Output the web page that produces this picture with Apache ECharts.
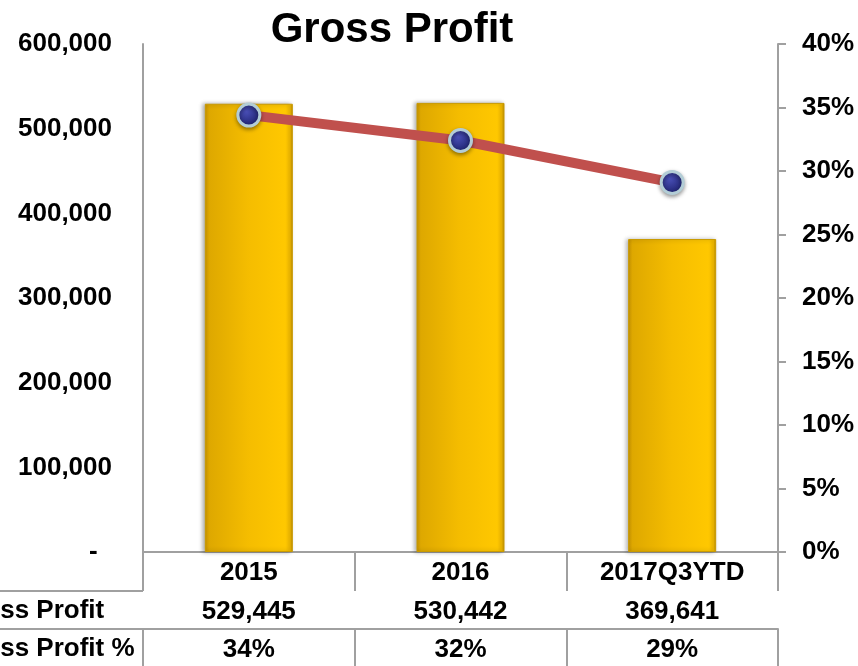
<!DOCTYPE html>
<html>
<head>
<meta charset="utf-8">
<script src="https://cdn.jsdelivr.net/npm/echarts@6/dist/echarts.min.js"></script>
<style>
  html, body { margin: 0; padding: 0; background: #fff; }
  #chart { width: 858px; height: 666px; }
</style>
</head>
<body>
<div id="chart"></div>
<script>
// chart data
const categories = ['2015', '2016', '2017Q3YTD'];
const grossProfit = [529445, 530442, 369641];
const grossProfitPct = [0.344, 0.324, 0.291];
const leftTicks = [0, 100000, 200000, 300000, 400000, 500000, 600000];
const rightTicks = [0, 0.05, 0.1, 0.15, 0.2, 0.25, 0.3, 0.35, 0.4];
const rowHeaders = ['Gross Profit', 'Gross Profit %'];

const FONT = "'Liberation Sans', Arial, sans-serif";
const gridLine = '#a0a0a0';

const profitLabels = grossProfit.map(v => v.toLocaleString('en-US'));
const pctLabels = grossProfitPct.map(v => Math.round(v * 100) + '%');

const chart = echarts.init(document.getElementById('chart'));

// one x axis per table row, stacked with offsets
function tableAxis(labels, offset, tickLen) {
    return {
        type: 'category',
        position: 'bottom',
        offset: offset,
        data: categories,
        axisLine: { show: true, lineStyle: { color: gridLine, width: 2 } },
        axisTick: { show: true, length: tickLen, lineStyle: { color: gridLine, width: 2 } },
        axisLabel: {
            margin: 21,
            verticalAlign: 'middle',
            fontFamily: FONT,
            fontWeight: 'bold',
            fontSize: 26,
            color: '#000',
            formatter: (v, i) => labels[i]
        }
    };
}

const option = {
    animation: false,
    backgroundColor: '#fff',
    title: {
        text: 'Gross Profit',
        left: 392,
        textAlign: 'center',
        top: 9,
        padding: 0,
        textStyle: { fontFamily: FONT, fontWeight: 'bold', fontSize: 42, color: '#000' }
    },
    grid: { left: 143, right: 80, top: 44, bottom: 114 },
    xAxis: [
        tableAxis(categories, 0, 39),
        tableAxis(profitLabels, 39, 38),
        tableAxis(pctLabels, 77, 40)
    ],
    yAxis: [
        {
            type: 'value',
            min: leftTicks[0],
            max: leftTicks[leftTicks.length - 1],
            interval: 100000,
            axisLine: { show: true, lineStyle: { color: gridLine, width: 2 } },
            axisTick: { show: false },
            splitLine: { show: false },
            axisLabel: {
                margin: 31,
                fontFamily: FONT,
                fontWeight: 'bold',
                fontSize: 26,
                color: '#000',
                formatter: v => v === 0 ? '-  ' : v.toLocaleString('en-US')
            }
        },
        {
            type: 'value',
            position: 'right',
            min: rightTicks[0],
            max: rightTicks[rightTicks.length - 1],
            interval: 0.05,
            axisLine: { show: true, lineStyle: { color: gridLine, width: 2 } },
            axisTick: { show: true, length: 8, lineStyle: { color: gridLine, width: 2 } },
            splitLine: { show: false },
            axisLabel: {
                margin: 24,
                fontFamily: FONT,
                fontWeight: 'bold',
                fontSize: 26,
                color: '#000',
                formatter: v => Math.round(v * 100) + '%'
            }
        }
    ],
    series: [
        {
            name: 'Gross Profit',
            type: 'bar',
            xAxisIndex: 0,
            yAxisIndex: 0,
            barWidth: 88,
            data: grossProfit,
            itemStyle: {
                color: new echarts.graphic.LinearGradient(0, 0, 1, 0, [
                    { offset: 0, color: '#c69200' },
                    { offset: 0.05, color: '#dea800' },
                    { offset: 0.5, color: '#f5bd00' },
                    { offset: 0.92, color: '#ffc800' },
                    { offset: 0.97, color: '#f2ba00' },
                    { offset: 1, color: '#b58600' }
                ]),
                borderColor: '#c99a00',
                borderWidth: 1,
                shadowColor: 'rgba(0,0,0,0.3)',
                shadowBlur: 4,
                shadowOffsetX: -2
            }
        },
        {
            name: 'Gross Profit %',
            type: 'line',
            xAxisIndex: 0,
            yAxisIndex: 1,
            data: grossProfitPct,
            symbol: 'circle',
            symbolSize: 22,
            z: 5,
            lineStyle: { color: '#c0504d', width: 10 },
            itemStyle: {
                color: new echarts.graphic.RadialGradient(0.4, 0.35, 0.65, [
                    { offset: 0, color: '#4a50b8' },
                    { offset: 1, color: '#1c206c' }
                ]),
                borderColor: '#b3cdd6',
                borderWidth: 3,
                shadowColor: 'rgba(0,0,0,0.35)',
                shadowBlur: 4,
                shadowOffsetY: 2
            }
        }
    ],
    graphic: [
        // row header cells to the left of the table
        { type: 'line', shape: { x1: 0, y1: 591, x2: 143, y2: 591 }, style: { stroke: gridLine, lineWidth: 2 } },
        { type: 'line', shape: { x1: 0, y1: 629, x2: 143, y2: 629 }, style: { stroke: gridLine, lineWidth: 2 } },
        { type: 'text', left: -46, top: 598, style: { text: rowHeaders[0], font: 'bold 26px ' + FONT, fill: '#000' } },
        { type: 'text', left: -46, top: 636, style: { text: rowHeaders[1], font: 'bold 26px ' + FONT, fill: '#000' } }
    ]
};

chart.setOption(option);
</script>
</body>
</html>
